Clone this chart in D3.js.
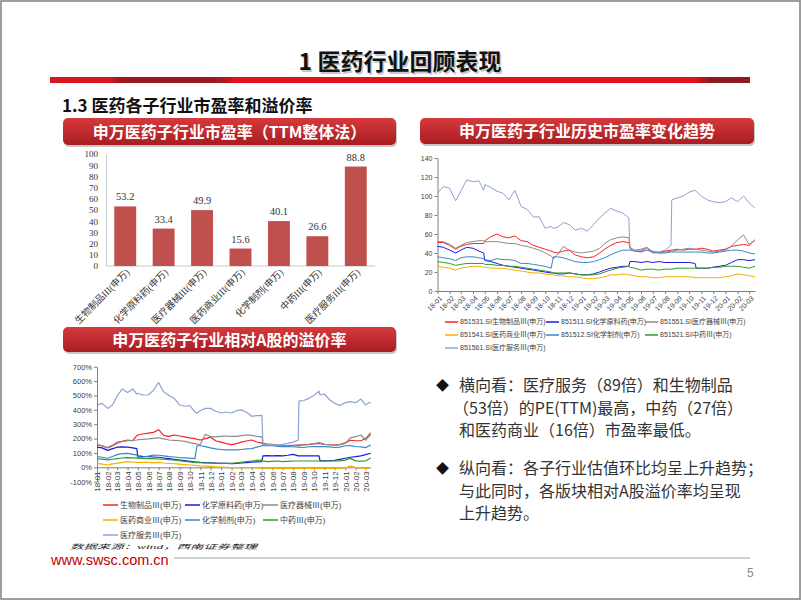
<!DOCTYPE html>
<html>
<head>
<meta charset="utf-8">
<script src="https://cdn.jsdelivr.net/npm/d3@7/dist/d3.min.js"></script>
<style>
html,body{margin:0;padding:0;background:#fff;}
svg{display:block;}
</style>
</head>
<body>
<svg id="slide" width="802" height="602"></svg>
<script>
// ---------------- DATA ----------------
const slideTitle = "1 医药行业回顾表现";
const sectionTitle = "1.3 医药各子行业市盈率和溢价率";
const barTitle = "申万医药子行业市盈率（TTM整体法）";
const peTitle = "申万医药子行业历史市盈率变化趋势";
const premiumTitle = "申万医药子行业相对A股的溢价率";

const barCategories = ["生物制品III(申万)","化学原料药(申万)","医疗器械III(申万)","医药商业III(申万)","化学制剂(申万)","中药III(申万)","医疗服务III(申万)"];
const barValues = [53.2, 33.4, 49.9, 15.6, 40.1, 26.6, 88.8];
const barTicks = [0,10,20,30,40,50,60,70,80,90,100];

const dates = ["2018-01-01","2018-01-16","2018-02-01","2018-02-16","2018-03-01","2018-03-16","2018-04-01","2018-04-16","2018-04-28","2018-05-01",
"2018-05-16","2018-06-01","2018-06-16","2018-07-01","2018-07-16","2018-08-01","2018-08-16","2018-09-01","2018-09-16","2018-10-01",
"2018-10-16","2018-10-22","2018-11-01","2018-11-16","2018-12-01","2018-12-16","2019-01-01","2019-01-16","2019-02-01","2019-02-16",
"2019-03-01","2019-03-16","2019-04-01","2019-04-16","2019-05-01","2019-05-04","2019-05-16","2019-06-01","2019-06-16","2019-07-01",
"2019-07-16","2019-08-01","2019-08-16","2019-08-18","2019-09-01","2019-09-16","2019-10-01","2019-10-16","2019-10-19","2019-11-01",
"2019-11-16","2019-12-01","2019-12-16","2020-01-01","2020-01-16","2020-02-01","2020-02-16","2020-03-01","2020-03-16"];

const peTicks = [0,20,40,60,80,100,120,140];
const premiumTicks = [-100,0,100,200,300,400,500,600,700];

const peLegend = ["851531.SI生物制品Ⅲ(申万)","851511.SI化学原料药(申万)","851551.SI医疗器械Ⅲ(申万)","851541.SI医药商业Ⅲ(申万)","851512.SI化学制剂(申万)","851521.SI中药Ⅲ(申万)","851561.SI医疗服务Ⅲ(申万)"];
const premiumLegend = ["生物制品Ⅲ(申万)","化学原料药(申万)","医疗器械Ⅲ(申万)","医药商业Ⅲ(申万)","化学制剂(申万)","中药Ⅲ(申万)","医疗服务Ⅲ(申万)"];
const seriesColors = ["#ff2020","#1a1ae0","#8c8c8c","#f5b000","#3a88c4","#2f9a2f","#8fa1d5"];

// PE (TTM) history
const peBio     = [51,51,48,44,47,49,50,50,50,53, 57,60,57,56,58,53,52,48,46,44, 42,41,40,42,43,38,36,35,36,40, 44,48,51,52,51,45,42,42,45,40, 41,42,43,43,44,43,44,44,44,45, 44,42,43,44,47,48,49,48,54];
const peChem    = [47,46,43,40,43,46,45,42,40,32, 31,29,27,26,25,24,23,22,21,20, 19,19,18,18,19,18,17,17,18,20, 22,24,25,26,26,31,31,30,31,30, 31,30,30,30,30,30,30,29,24,24, 24,25,26,27,30,33,33,32,33];
const peDevice  = [52,52,49,45,48,51,52,53,53,52, 52,52,51,50,50,48,47,45,43,40, 37,34,38,47,43,41,40,41,42,45, 50,54,56,57,56,46,43,44,46,41, 40,41,42,42,43,44,45,44,44,43, 42,41,42,43,47,54,59,49,53];
const peCommerce= [26,25,24,22,24,25,26,26,25,25, 24,24,24,23,22,21,20,19,19,18, 17,17,16,16,15,15,14,13,13,14, 15,17,17,18,17,17,16,15,15,14, 14,15,15,15,15,15,15,14,14,14, 14,14,14,15,16,18,17,16,15];
const pePrep    = [36,35,34,32,35,36,36,35,34,33, 32,34,33,33,32,29,29,28,27,26, 24,36,36,35,33,31,30,30,31,33, 35,38,41,43,43,43,42,41,43,41, 40,40,41,41,41,41,41,41,41,41, 40,40,41,42,43,43,42,40,39];
const peTCM     = [31,30,29,27,28,29,29,29,29,28, 28,27,27,26,26,25,24,23,22,21, 20,19,19,19,19,18,17,17,17,18, 20,22,24,25,26,25,24,22,23,23, 22,23,23,23,24,24,24,24,24,24, 24,25,25,26,26,26,25,24,26];
const peService = [103,110,108,95,105,117,115,116,106,112, 109,105,103,96,106,89,86,78,78,66, 68,66,67,72,70,64,66,63,70,77, 82,87,84,82,77,44,43,43,45,42, 41,43,48,96,98,100,104,106,105,100, 96,94,93,94,98,94,100,93,87];

// Premium vs A-share (%)
const prBio     = [158,150,135,150,168,180,190,185,220,225, 232,238,243,262,222,215,225,218,212,205, 200,195,190,200,210,185,175,165,158,165, 175,183,190,176,168,160,155,155,154,150, 151,153,155,155,158,160,163,167,165,160, 157,155,158,170,188,185,185,200,240];
const prChem    = [140,135,118,130,140,142,140,135,130,80, 76,74,72,70,65,60,55,50,46,42, 38,37,35,33,32,30,28,27,26,28, 30,33,36,38,40,80,82,80,82,80, 84,90,80,80,80,79,79,79,45,45, 46,48,55,63,70,74,80,88,98];
const prDevice  = [157,148,138,155,175,180,185,188,190,192, 195,198,202,206,198,190,188,185,180,172, 165,162,160,230,213,212,215,218,215,215, 220,225,222,215,212,168,163,160,155,151, 150,151,154,154,156,158,165,172,170,160, 157,155,158,167,205,213,225,190,228];
const prCommerce= [28,22,16,24,28,35,39,37,35,35, 35,35,33,34,30,28,25,22,19,16, 13,12,10,8,6,4,2,0,-2,-2, -2,-3,-3,-4,-5,-5,-6,-7,-7,-7, -7,-7,-7,-7,-7,-7,-7,-7,-7,-7, -7,-7,-6,-5,10,-2,-5,-7,-3];
const prPrep    = [75,70,63,75,88,95,97,90,86,68, 72,78,85,84,80,75,72,68,66,64, 60,150,150,144,135,128,124,121,121,121, 124,128,130,140,150,151,151,150,146,144, 144,143,140,140,138,143,145,144,144,144, 142,138,140,150,151,145,142,137,155];
const prTCM     = [58,57,52,56,60,65,67,66,64,63, 62,61,60,58,56,53,50,46,42,38, 35,33,32,30,29,28,27,27,28,31, 35,40,44,48,51,45,40,42,44,40, 42,44,44,44,44,44,44,44,44,44, 44,44,45,50,62,45,43,44,65];
const prService = [433,445,410,435,495,545,520,545,510,515, 503,505,535,590,526,500,480,435,425,430, 385,376,395,410,410,390,378,385,378,395, 400,385,355,360,362,158,158,155,155,160, 167,175,190,460,465,480,500,530,503,510, 470,445,430,450,457,450,475,435,455];

const bullet1 = ["横向看：医疗服务（89倍）和生物制品","（53倍）的PE(TTM)最高，中药（27倍）","和医药商业（16倍）市盈率最低。"];
const bullet2 = ["纵向看：各子行业估值环比均呈上升趋势；","与此同时，各版块相对A股溢价率均呈现","上升趋势。"];
const sourceNote = "数据来源：wind，西南证券整理";
const siteUrl = "www.swsc.com.cn";
const pageNo = "5";

// ---------------- DRAWING ----------------
const SANS = "'Noto Sans CJK SC','Noto Sans',sans-serif";
const ARIAL = "'Liberation Sans',Arial,'Noto Sans CJK SC',sans-serif";
const SERIF = "'Liberation Serif','Times New Roman','Noto Sans CJK SC',serif";

const svg = d3.select("#slide");
const defs = svg.append("defs");

const rg = defs.append("linearGradient").attr("id","redbar").attr("x1","0").attr("x2","1").attr("y1","0").attr("y2","0");
[[0,"#d8161e"],[0.08,"#d8161e"],[0.105,"#9a1b1e"],[0.24,"#9a1b1e"],[0.265,"#e3101a"],[0.92,"#e3101a"],[0.945,"#8e1b1e"],[1,"#8e1b1e"]]
  .forEach(s => rg.append("stop").attr("offset", s[0]).attr("stop-color", s[1]));
const bg = defs.append("linearGradient").attr("id","banner").attr("x1","0").attr("x2","0").attr("y1","0").attr("y2","1");
bg.append("stop").attr("offset","0").attr("stop-color","#d63a3c");
bg.append("stop").attr("offset","1").attr("stop-color","#a91c21");

svg.append("rect").attr("x",1).attr("y",1).attr("width",799).attr("height",598)
  .attr("fill","#fff").attr("stroke","#7f7f7f").attr("stroke-width",1.5);

svg.append("text").attr("x",401.5).attr("y",71.5).attr("text-anchor","middle")
  .attr("font-family",SANS).attr("font-size",23).attr("font-weight","bold").attr("fill","#c8c8c8").text(slideTitle);
svg.append("text").attr("x",400).attr("y",70).attr("text-anchor","middle")
  .attr("font-family",SANS).attr("font-size",23).attr("font-weight","bold").attr("fill","#111").text(slideTitle);
svg.append("rect").attr("x",50).attr("y",77).attr("width",700).attr("height",6).attr("fill","url(#redbar)");
svg.append("text").attr("x",62).attr("y",111.5).attr("font-family",SANS).attr("font-size",17)
  .attr("font-weight","bold").attr("fill","#111").text(sectionTitle);

function banner(x, y, w, h, label) {
  svg.append("rect").attr("x",x+1).attr("y",y+2).attr("width",w).attr("height",h).attr("rx",5)
    .attr("fill","#000").attr("opacity",0.22);
  svg.append("rect").attr("x",x).attr("y",y).attr("width",w).attr("height",h).attr("rx",5)
    .attr("fill","url(#banner)");
  svg.append("text").attr("x",x+w/2).attr("y",y+h/2+6).attr("text-anchor","middle")
    .attr("font-family",SANS).attr("font-size",16).attr("font-weight","bold").attr("fill","#fff").text(label);
}
banner(63,118,333,27,barTitle);
banner(420,118,334,26,peTitle);
banner(63,327,333,25,premiumTitle);

// ---------- Bar chart ----------
const bx = d3.scaleBand().domain(barCategories).range([106,375]).paddingInner(0.43).paddingOuter(0.215);
const by = d3.scaleLinear().domain([0,100]).range([266,154]);
const gb = svg.append("g");
const bYAxis = gb.append("g").attr("transform","translate(106,0)")
  .call(d3.axisLeft(by).tickValues(barTicks).tickSize(0).tickPadding(8));
bYAxis.select(".domain").attr("stroke","#c8c8c8");
bYAxis.selectAll("text").attr("font-family",SERIF).attr("font-size",9).attr("fill","#333");
gb.append("line").attr("x1",106).attr("x2",375).attr("y1",by(0)).attr("y2",by(0)).attr("stroke","#c8c8c8");
gb.selectAll("rect.bar").data(barValues).join("rect").attr("class","bar")
  .attr("x",(d,i)=>bx(barCategories[i])).attr("width",bx.bandwidth())
  .attr("y",d=>by(d)).attr("height",d=>by(0)-by(d)).attr("fill","#c0504d");
gb.selectAll("text.val").data(barValues).join("text").attr("class","val")
  .attr("x",(d,i)=>bx(barCategories[i])+bx.bandwidth()/2).attr("y",d=>by(d)-6)
  .attr("text-anchor","middle").attr("font-family",SERIF).attr("font-size",10.5).attr("fill","#333")
  .text(d=>d.toFixed(1));
gb.selectAll("text.cat").data(barCategories).join("text").attr("class","cat")
  .attr("text-anchor","end").attr("font-family",SERIF).attr("font-size",9.5).attr("fill","#333")
  .attr("transform",d=>`translate(${bx(d)+bx.bandwidth()/2+5},${by(0)+7}) rotate(-45)`)
  .text(d=>d);

// ---------- shared time ----------
const parse = d3.timeParse("%Y-%m-%d");
const T = dates.map(parse);
const fmt = d3.timeFormat("%y-%m");

function lineChart(opts) {
  const x = d3.scaleTime().domain(d3.extent(T)).range(opts.xr);
  const y = d3.scaleLinear().domain(opts.yd).range(opts.yr);
  const g = svg.append("g");
  const ya = g.append("g").attr("transform",`translate(${opts.xr[0]},0)`)
    .call(d3.axisLeft(y).tickValues(opts.ticks).tickSize(3).tickSizeOuter(0).tickPadding(2).tickFormat(opts.tf));
  ya.select(".domain").attr("stroke","#808080");
  ya.selectAll(".tick line").attr("stroke","#808080");
  ya.selectAll("text").attr("font-family",ARIAL).attr("font-size",opts.fs).attr("fill","#404040");
  const xa = g.append("g").attr("transform",`translate(0,${y(opts.xAt)})`)
    .call(d3.axisBottom(x).ticks(d3.timeMonth.every(1)).tickFormat(fmt).tickSize(3).tickSizeOuter(0));
  xa.select(".domain").attr("stroke","#808080");
  xa.selectAll(".tick line").attr("stroke","#808080");
  xa.selectAll("text").attr("x",0).attr("y",0).attr("dy","0.35em").attr("text-anchor","end")
    .attr("font-family",ARIAL).attr("font-size",opts.xfs).attr("fill","#404040")
    .attr("transform",opts.labelTransform);
  const line = d3.line().x((d,i)=>x(T[i])).y(d=>y(d));
  opts.series.forEach((s,k)=>{
    g.append("path").attr("d",line(s)).attr("fill","none").attr("stroke",seriesColors[k])
      .attr("stroke-width",opts.sw).attr("stroke-linejoin","round");
  });
  opts.legend.forEach((name,k)=>{
    const cx = opts.lcols[k%3], cy = opts.lrows[Math.floor(k/3)];
    g.append("line").attr("x1",cx).attr("x2",cx+opts.llen).attr("y1",cy).attr("y2",cy)
      .attr("stroke",seriesColors[k]).attr("stroke-width",1.5);
    g.append("text").attr("x",cx+opts.llen+opts.lgap).attr("y",cy).attr("dy","0.35em")
      .attr("font-family",ARIAL).attr("font-size",opts.lfs).attr("fill","#404040").text(name);
  });
}

lineChart({
  xr:[437.5,755], yd:[0,140], yr:[291,158], ticks:peTicks, tf:d3.format("d"), fs:7, xfs:7, xAt:0,
  labelTransform:"translate(3,6) rotate(-45)", sw:1,
  series:[peBio,peChem,peDevice,peCommerce,pePrep,peTCM,peService],
  legend:peLegend, lcols:[445,546,645], lrows:[322,335,348], llen:13, lgap:2, lfs:7
});

lineChart({
  xr:[97,370.7], yd:[-100,700], yr:[481.7,366.7], ticks:premiumTicks, tf:d=>d+"%", fs:7.5, xfs:8, xAt:0,
  labelTransform:"translate(0,4) rotate(-90)", sw:1.2,
  series:[prBio,prChem,prDevice,prCommerce,prPrep,prTCM,prService],
  legend:premiumLegend, lcols:[103,185,263], lrows:[505,520,535], llen:15, lgap:2, lfs:8
});

// ---------- bullets ----------
function para(lines, y0, dx2) {
  svg.append("text").attr("x",436).attr("y",y0-1).attr("font-family",SANS).attr("font-size",13).attr("fill","#111").text("◆");
  lines.forEach((t,i)=>{
    svg.append("text").attr("x", i===1 ? dx2 : 459).attr("y",y0+i*22.5)
      .attr("font-family",SANS).attr("font-size",16).attr("fill","#333").text(t);
  });
}
para(bullet1, 391, 453);
para(bullet2, 474, 459);

// ---------- footer ----------
svg.append("text").attr("transform","translate(70,549) scale(1,0.55)")
  .attr("font-family",SERIF).attr("font-style","italic").attr("font-size",12).attr("fill","#222")
  .attr("textLength",187).attr("lengthAdjust","spacingAndGlyphs").text(sourceNote);
svg.append("line").attr("x1",174).attr("x2",750).attr("y1",558).attr("y2",558).attr("stroke","#bfbfbf").attr("stroke-width",1.5);
svg.append("text").attr("x",51).attr("y",565).attr("font-family",ARIAL).attr("font-size",14.5).attr("fill","#c00000").text(siteUrl);
svg.append("text").attr("x",747).attr("y",577).attr("font-family",ARIAL).attr("font-size",12).attr("fill","#8c8c8c").text(pageNo);
</script>
</body>
</html>
